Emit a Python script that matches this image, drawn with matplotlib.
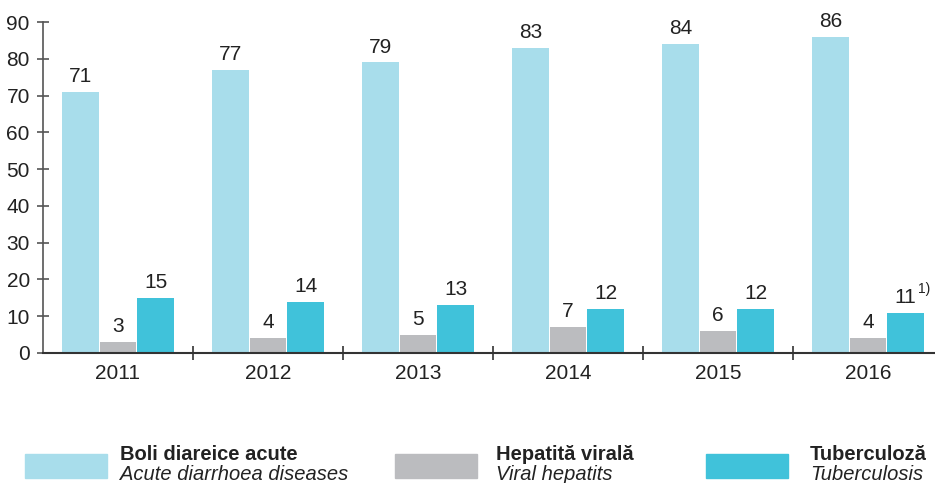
import matplotlib.pyplot as plt
from matplotlib.patches import Rectangle
import numpy as np

plt.rcParams['font.family'] = ['Liberation Sans', 'DejaVu Sans']

years = ['2011', '2012', '2013', '2014', '2015', '2016']
diarrhoea = [71, 77, 79, 83, 84, 86]
hepatitis = [3, 4, 5, 7, 6, 4]
tuberculosis = [15, 14, 13, 12, 12, 11]

series_names = [('Boli diareice acute', 'Acute diarrhoea diseases'),
                ('Hepatită virală', 'Viral hepatits'),
                ('Tuberculoză', 'Tuberculosis')]
colors = ['#a8ddeb', '#bbbcbf', '#40c2da']

fig = plt.figure(figsize=(9.35, 4.83), dpi=100)
ax = fig.add_axes([43 / 935, 130 / 483, 892 / 935, 331 / 483])

x = np.arange(len(years))
width = 0.245
offsets = [-0.25, 0, 0.25]
for vals, off, col in zip([diarrhoea, hepatitis, tuberculosis], offsets, colors):
    bars = ax.bar(x + off, vals, width, color=col, zorder=2)
    for b, v in zip(bars, vals):
        ax.text(b.get_x() + b.get_width() / 2, v + 1.6, str(v),
                ha='center', va='bottom', fontsize=15, color='#222222')

# footnote mark on the last tuberculosis value
ax.text(x[-1] + 0.25 + 0.085, tuberculosis[-1] + 4.5, '1)',
        ha='left', va='bottom', fontsize=10, color='#222222')

ax.set_xlim(-0.5, -0.5 + 892 / 150)
ax.set_ylim(0, 90)
ax.set_yticks(range(0, 91, 10))
ax.set_xticks(x)
ax.set_xticklabels(years)
ax.set_xticks(np.arange(0.5, len(years) - 0.5), minor=True)

for s in ['top', 'right']:
    ax.spines[s].set_visible(False)
ax.spines['left'].set_color('#555555')
ax.spines['left'].set_linewidth(1.2)
ax.spines['bottom'].set_color('#333333')
ax.spines['bottom'].set_linewidth(1.5)

ax.tick_params(axis='y', direction='inout', length=9, width=1.2, color='#555555',
               labelsize=15, labelcolor='#222222', pad=5)
ax.tick_params(axis='x', which='major', length=0, labelsize=15,
               labelcolor='#222222', pad=8)
ax.tick_params(axis='x', which='minor', direction='inout', length=10,
               width=1.2, color='#333333')

# legend drawn below the plot
legend_x = [25, 395, 706]
text_x = [120, 496, 810]
for lx, tx, (ro, en), col in zip(legend_x, text_x, series_names, colors):
    fig.patches.append(Rectangle((lx / 935, 5 / 483), 82 / 935, 24 / 483,
                                 transform=fig.transFigure, color=col))
    fig.text(tx / 935, 1 - 455 / 483, ro, fontsize=14.5, fontweight='bold',
             ha='left', va='center', color='#222222')
    fig.text(tx / 935, 1 - 474 / 483, en, fontsize=14.5, style='italic',
             ha='left', va='center', color='#222222')

fig.savefig('out.png', dpi=100)
